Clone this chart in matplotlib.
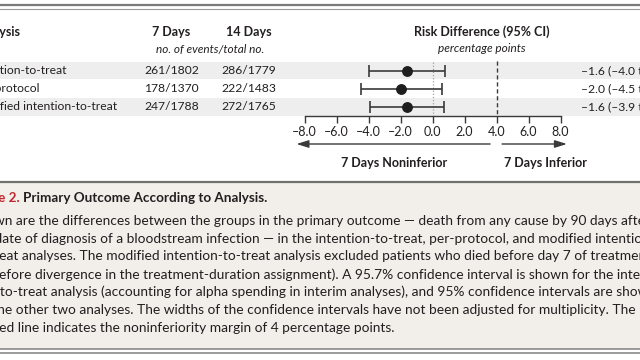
"""Primary outcome according to analysis: forest table plus caption (cropped NEJM figure)."""
import matplotlib
matplotlib.use("Agg")
import matplotlib.pyplot as plt
from matplotlib.transforms import blended_transform_factory

plt.rcParams["font.family"] = ["Lato", "DejaVu Sans"]

# datos
analisis = ["Intention-to-treat", "Per-protocol", "Modified intention-to-treat"]
eventos_7 = [261, 178, 247]
total_7 = [1802, 1370, 1788]
eventos_14 = [286, 222, 272]
total_14 = [1779, 1483, 1765]
dif_riesgo = [-1.6, -2.0, -1.6]
ic_inf = [-4.0, -4.5, -3.9]
ic_sup = [0.8, 0.6, 0.7]
margen = 4.0
ticks = [-8, -6, -4, -2, 0, 2, 4, 6, 8]

leyenda_titulo = ("Figure 2.", "Primary Outcome According to Analysis.")
leyenda = [
    "Shown are the differences between the groups in the primary outcome \u2014 death from any cause by 90 days after",
    "the date of diagnosis of a bloodstream infection \u2014 in the intention-to-treat, per-protocol, and modified intention-",
    "to-treat analyses. The modified intention-to-treat analysis excluded patients who died before day 7 of treatment",
    "(or before divergence in the treatment-duration assignment). A 95.7% confidence interval is shown for the inten-",
    "tion-to-treat analysis (accounting for alpha spending in interim analyses), and 95% confidence intervals are shown",
    "for the other two analyses. The widths of the confidence intervals have not been adjusted for multiplicity. The",
    "dashed line indicates the noninferiority margin of 4 percentage points.",
]

TXT = "#231f20"
ROJO = "#c0282d"


def fmt(v):
    return f"{v:.1f}".replace("-", "\u2013")


fig = plt.figure(figsize=(6.4, 3.6), dpi=100)
fig.patch.set_facecolor("white")

# lienzo en pixeles (y hacia abajo)
bg = fig.add_axes([0, 0, 1, 1])
bg.set_xlim(0, 640)
bg.set_ylim(360, 0)
bg.axis("off")

# doble linea superior
bg.axhline(5.0, color="#7a7a7a", lw=1.6)
bg.axhline(8.5, color="#9a9a9a", lw=0.8)

# cabeceras
bg.text(-26, 32, "Analysis", fontsize=9, fontweight="bold", color=TXT, va="center", ha="left")
bg.text(171.5, 32, "7 Days", fontsize=9, fontweight="bold", color=TXT, va="center", ha="center")
bg.text(249, 32, "14 Days", fontsize=9, fontweight="bold", color=TXT, va="center", ha="center")
bg.text(210, 49, "no. of events/total no.", fontsize=8.5, style="italic", color=TXT, va="center", ha="center")
bg.text(481.5, 32, "Risk Difference (95% CI)", fontsize=9, fontweight="bold", color=TXT, va="center", ha="center")
bg.text(481.5, 49, "percentage points", fontsize=8.5, style="italic", color=TXT, va="center", ha="center")

y0, paso = 70.5, 18.25
for i, nombre in enumerate(analisis):
    y = y0 + paso * i
    if i % 2 == 0:
        bg.axhspan(y - 8.7, y + 8.7, color="#eeeeee", lw=0, zorder=0)
    bg.text(-27.5, y, nombre, fontsize=8.7, color=TXT, va="center", ha="left")
    bg.text(171.5, y, f"{eventos_7[i]}/{total_7[i]}", fontsize=8.7, color=TXT, va="center", ha="center")
    bg.text(249, y, f"{eventos_14[i]}/{total_14[i]}", fontsize=8.7, color=TXT, va="center", ha="center")
    bg.text(581, y, f"{fmt(dif_riesgo[i])} ({fmt(ic_inf[i])} to {fmt(ic_sup[i])})",
            fontsize=8.7, color=TXT, va="center", ha="left")

# panel del forest plot: -8..8 sobre x=304.5..560.5 px, filas en y0 + paso*i
top_px, bot_px = 60.0, 116.0
ax = fig.add_axes([304.5 / 640, (360 - bot_px) / 360, 256 / 640, (bot_px - top_px) / 360])
ax.patch.set_alpha(0)
ax.set_xlim(-8, 8)
ax.set_ylim((bot_px - y0) / paso, (top_px - y0) / paso)
for s in ("top", "left", "right"):
    ax.spines[s].set_visible(False)
ax.spines["bottom"].set_color("#3a3a3a")
ax.spines["bottom"].set_linewidth(1.0)
ax.set_yticks([])
ax.set_xticks(ticks)
ax.set_xticklabels([fmt(t) for t in ticks])
ax.tick_params(axis="x", direction="out", length=5, width=1.0, color="#3a3a3a",
               labelsize=9, labelcolor=TXT, pad=2.5)

y_lin = (top_px + 1.8 - y0) / paso
ax.plot([0, 0], [y_lin, ax.get_ylim()[0]], color="#a0a0a0", lw=0.9, ls=(0, (1, 1.5)), zorder=1)
ax.plot([margen, margen], [y_lin - 0.05, ax.get_ylim()[0]], color="#3a3a3a", lw=1.0, ls=(0, (3, 2)), zorder=1)

filas = list(range(len(analisis)))
ax.errorbar(dif_riesgo, filas, xerr=[[d - lo for d, lo in zip(dif_riesgo, ic_inf)],
                                     [hi - d for d, hi in zip(dif_riesgo, ic_sup)]],
            fmt="o", color="#1e1e1e", ecolor="#3a3a3a", elinewidth=1.2, capsize=4.5,
            capthick=1.2, markersize=6.8, zorder=3)

# flechas y rotulos bajo el eje
tr = blended_transform_factory(ax.transData, bg.transData)
for x_ini, x_fin in ((3.6, -8.5), (4.35, 8.4)):
    ax.annotate("", xy=(x_fin, 144), xytext=(x_ini, 144), xycoords=tr, textcoords=tr,
                arrowprops=dict(arrowstyle="-|>,head_length=0.8,head_width=0.25", color="#3a3a3a",
                                lw=1.0, mutation_scale=9, shrinkA=0, shrinkB=0),
                annotation_clip=False)
bg.text(393.7, 163, "7 Days Noninferior", fontsize=9, fontweight="bold", color=TXT, va="center", ha="center")
bg.text(545, 163, "7 Days Inferior", fontsize=9, fontweight="bold", color=TXT, va="center", ha="center")

# recuadro de la leyenda
bg.axhspan(182, 348.5, color="#f2eee9", lw=0, zorder=0)
bg.axhline(182, color="#707070", lw=1.6)
bg.axhline(348.8, color="#8a8a8a", lw=1.2)
bg.axhline(353.3, color="#8a8a8a", lw=1.2)

t = bg.text(-33, 198.5, leyenda_titulo[0] + " ", fontsize=9.7, fontweight="bold", color=ROJO,
            va="center", ha="left")
fig.canvas.draw()
bb = t.get_window_extent()
x_sig = bg.transData.inverted().transform((bb.x1, 0))[0]
bg.text(x_sig, 198.5, leyenda_titulo[1], fontsize=9.7, fontweight="bold", color=TXT,
        va="center", ha="left")
for k, linea in enumerate(leyenda):
    bg.text(-29, 220.7 + 17.85 * k, linea, fontsize=9.9, color=TXT, va="center", ha="left")

fig.savefig("out.png", dpi=100)
plt.close(fig)
